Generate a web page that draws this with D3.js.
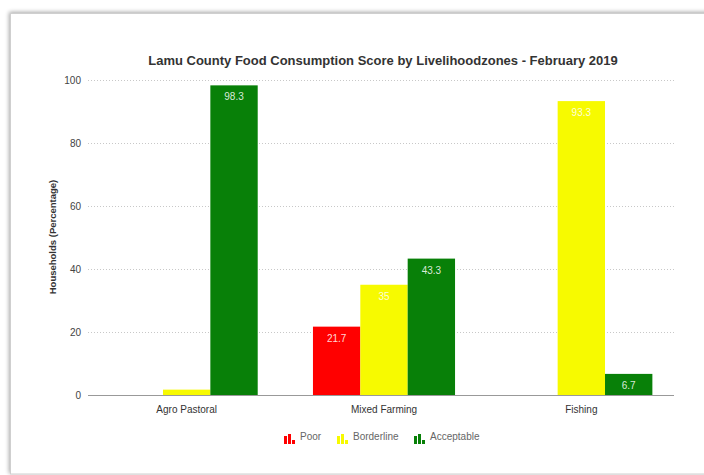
<!DOCTYPE html>
<html>
<head>
<meta charset="utf-8">
<script src="https://cdn.jsdelivr.net/npm/d3@7"></script>
<style>
  html, body { margin: 0; padding: 0; background: #fff; }
  svg { display: block; font-family: "Liberation Sans", Arial, Helvetica, sans-serif; }
</style>
</head>
<body>
<svg id="chart" width="704" height="475"></svg>
<script>
const categories = ["Agro Pastoral", "Mixed Farming", "Fishing"];
const series = ["Poor", "Borderline", "Acceptable"];
const poorValues = [0, 21.7, 0];
const borderlineValues = [1.7, 35, 93.3];
const acceptableValues = [98.3, 43.3, 6.7];
const yTicks = [0, 20, 40, 60, 80, 100];
const colors = ["#ff0000", "#f7fa00", "#088008"];
const title = "Lamu County Food Consumption Score by Livelihoodzones - February 2019";
const yTitle = "Households (Percentage)";

const seriesValues = [poorValues, borderlineValues, acceptableValues];
const svg = d3.select("#chart");

// card with shadow
const defs = svg.append("defs");
const f = defs.append("filter").attr("id", "sh").attr("x", "-5%").attr("y", "-5%").attr("width", "110%").attr("height", "110%");
f.append("feGaussianBlur").attr("in", "SourceAlpha").attr("stdDeviation", 2);
f.append("feOffset").attr("dx", -1).attr("dy", -1).attr("result", "b");
f.append("feComponentTransfer").append("feFuncA").attr("type", "linear").attr("slope", 0.35);
const m = f.append("feMerge");
m.append("feMergeNode");
m.append("feMergeNode").attr("in", "SourceGraphic");
svg.append("rect").attr("x", 10.5).attr("y", 13.5).attr("width", 720).attr("height", 460.5)
  .attr("fill", "#fff").attr("stroke", "#cfcfcf").attr("filter", "url(#sh)");

const x = d3.scaleBand().domain(categories).range([88, 680]).paddingInner(0.28).paddingOuter(0.14);
const xs = d3.scaleBand().domain(series).range([0, x.bandwidth()]);
const y = d3.scaleLinear().domain([0, 100]).range([395, 80]);
const color = d3.scaleOrdinal().domain(series).range(colors);

// gridlines
svg.append("g").selectAll("line").data(yTicks.filter(d => d > 0)).join("line")
  .attr("x1", 88).attr("x2", 674)
  .attr("y1", d => Math.round(y(d)) + 0.5).attr("y2", d => Math.round(y(d)) + 0.5)
  .attr("stroke", "#c8c8c8").attr("stroke-dasharray", "1,2");

// y tick labels
svg.append("g").selectAll("text").data(yTicks).join("text")
  .attr("x", 81).attr("y", d => y(d)).attr("dy", "0.35em")
  .attr("text-anchor", "end").attr("font-size", 10).attr("fill", "#444")
  .text(d => d);

// bars
const data = [];
categories.forEach((c, i) => series.forEach((s, j) => data.push({ c, s, v: seriesValues[j][i] })));
const bars = svg.append("g");
bars.selectAll("rect").data(data.filter(d => d.v > 0)).join("rect")
  .attr("x", d => x(d.c) + xs(d.s))
  .attr("y", d => y(d.v))
  .attr("width", xs.bandwidth())
  .attr("height", d => y(0) - y(d.v))
  .attr("fill", d => color(d.s));

// value labels
bars.selectAll("text").data(data.filter(d => d.v > 5)).join("text")
  .attr("x", d => x(d.c) + xs(d.s) + xs.bandwidth() / 2)
  .attr("y", d => y(d.v) + 15)
  .attr("text-anchor", "middle").attr("font-size", 10)
  .attr("fill", "#fff").attr("fill-opacity", 0.85)
  .text(d => d.v);

// baseline
svg.append("line").attr("x1", 88).attr("x2", 674).attr("y1", y(0) + 0.5).attr("y2", y(0) + 0.5)
  .attr("stroke", "#999");

// x labels
svg.append("g").selectAll("text").data(categories).join("text")
  .attr("x", d => x(d) + x.bandwidth() / 2).attr("y", 413)
  .attr("text-anchor", "middle").attr("font-size", 10).attr("fill", "#333")
  .text(d => d);

// title
svg.append("text").attr("x", 383).attr("y", 65).attr("text-anchor", "middle")
  .attr("font-size", 13).attr("font-weight", "bold").attr("fill", "#333").text(title);

// y title
svg.append("text").attr("transform", "translate(56,237) rotate(-90)")
  .attr("text-anchor", "middle").attr("font-size", 9.5).attr("font-weight", "bold")
  .attr("fill", "#333").text(yTitle);

// legend
const legendX = [284, 337, 414];
const lg = svg.append("g").selectAll("g").data(series).join("g")
  .attr("transform", (d, i) => `translate(${legendX[i]},430)`);
const iconBars = [[0, 8], [4, 10], [8, 4]];
lg.each(function (s) {
  const g = d3.select(this);
  g.selectAll("rect").data(iconBars).join("rect")
    .attr("x", b => b[0]).attr("y", b => 14 - b[1]).attr("width", 3).attr("height", b => b[1])
    .attr("fill", color(s));
});
lg.append("text").attr("x", 16).attr("y", 10).attr("font-size", 10).attr("fill", "#666")
  .text(d => d);
</script>
</body>
</html>
